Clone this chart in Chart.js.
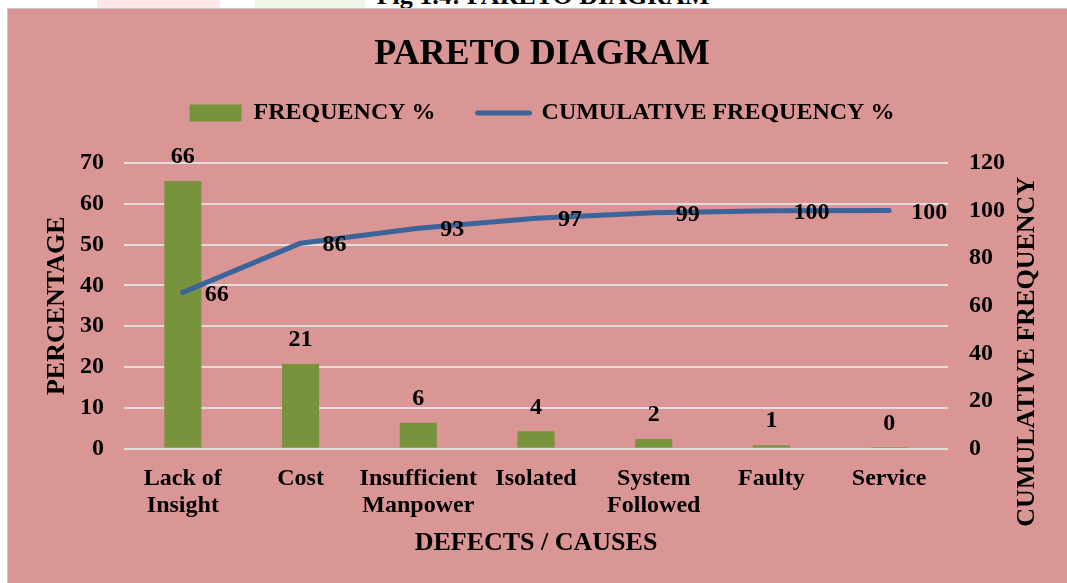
<!DOCTYPE html>
<html>
<head>
<meta charset="utf-8">
<title>Pareto Diagram</title>
<script src="https://cdn.jsdelivr.net/npm/chart.js@4.4.1/dist/chart.umd.min.js"></script>
<style>
  html, body { margin: 0; padding: 0; background: #fff; width: 1067px; height: 583px; overflow: hidden; }
  .caption { position: absolute; left: 0; top: -17px; width: 1086px; text-align: center;
             font: bold 26px/26px "Liberation Serif", "Times New Roman", serif; color: #000; }
  .smudge { position: absolute; top: 0; height: 8px; }
  .frame { position: absolute; left: 7px; top: 8px; width: 1080px; height: 590px;
           background: #D99694; border: 1px solid #C9C9C9; }
  .wrap { position: absolute; left: 0; top: 0; }
</style>
</head>
<body>
<div class="smudge" style="left:97px;width:123px;background:#FCE6E6"></div>
<div class="smudge" style="left:255px;width:110px;background:#EEF6E8"></div>
<div class="caption">Fig 1.4: PARETO DIAGRAM</div>
<div class="frame">
  <div class="wrap"><canvas id="pareto" width="1070" height="574"></canvas></div>
</div>
<script>
// data
const categories = [['Lack of', 'Insight'], 'Cost', ['Insufficient', 'Manpower'], 'Isolated', ['System', 'Followed'], 'Faulty', 'Service'];
const frequencyPct = [65.6, 20.7, 6.3, 4.2, 2.3, 0.8, 0.1];
const cumulativePct = [65.6, 86.3, 92.6, 96.8, 99.1, 99.9, 100];
const leftAxis = { min: 0, max: 70, step: 10 };
const rightAxis = { min: 0, max: 120, step: 20 };

const GREEN = '#77933C';
const BLUE = '#3B659A';
const FONT = '"Liberation Serif", "Times New Roman", serif';
const LEGEND_HEIGHT = 104;

Chart.defaults.font.family = FONT;
Chart.defaults.color = '#000';

// fix the legend box height so the plot starts where Excel put it
const legendHeight = {
  id: 'legendHeight',
  beforeLayout(chart) {
    const lg = chart.legend;
    if (lg && !lg._fixedFit) {
      const fit = lg.fit;
      lg.fit = function () {
        fit.call(this);
        this.height = LEGEND_HEIGHT;
      };
      lg._fixedFit = true;
    }
  }
};

// value labels + the right axis title (Excel reads it bottom-to-top)
const paretoLabels = {
  id: 'paretoLabels',
  afterDatasetsDraw(chart) {
    const ctx = chart.ctx;
    ctx.save();
    ctx.font = 'bold 24px ' + FONT;
    ctx.fillStyle = '#000';
    ctx.textBaseline = 'middle';

    ctx.textAlign = 'center';
    chart.getDatasetMeta(0).data.forEach((bar, i) => {
      ctx.fillText(Math.round(frequencyPct[i]), bar.x, bar.y - 24);
    });

    ctx.textAlign = 'left';
    chart.getDatasetMeta(1).data.forEach((pt, i) => {
      ctx.fillText(Math.round(cumulativePct[i]), pt.x + 22, pt.y + 2);
    });

    const y1 = chart.scales.y1;
    const area = chart.chartArea;
    ctx.translate(y1.right - 15.6, (area.top + area.bottom) / 2 + 46);
    ctx.rotate(-Math.PI / 2);
    ctx.textAlign = 'center';
    ctx.font = 'bold 26px ' + FONT;
    ctx.fillText('CUMULATIVE FREQUENCY', 0, 0);
    ctx.restore();
  }
};

new Chart(document.getElementById('pareto'), {
  data: {
    labels: categories,
    datasets: [
      {
        type: 'bar',
        label: 'FREQUENCY %',
        data: frequencyPct,
        backgroundColor: GREEN,
        borderWidth: 0,
        categoryPercentage: 1,
        barPercentage: 0.315,
        yAxisID: 'y',
        order: 1
      },
      {
        type: 'line',
        label: 'CUMULATIVE FREQUENCY %',
        data: cumulativePct,
        borderColor: BLUE,
        backgroundColor: BLUE,
        borderWidth: 5,
        borderCapStyle: 'round',
        borderJoinStyle: 'round',
        pointRadius: 0,
        tension: 0,
        yAxisID: 'y1',
        order: 0
      }
    ]
  },
  options: {
    responsive: false,
    animation: false,
    layout: { padding: { left: 33.4, right: 35.4, top: 0, bottom: 24.3 } },
    plugins: {
      tooltip: { enabled: false },
      title: {
        display: true,
        text: 'PARETO DIAGRAM',
        color: '#000',
        font: { size: 36, weight: 'bold', lineHeight: 1 },
        padding: { top: 28, bottom: -14 }
      },
      legend: {
        display: true,
        position: 'top',
        labels: {
          usePointStyle: true,
          pointStyleWidth: 52,
          boxHeight: 17,
          padding: 42,
          color: '#000',
          font: { size: 24, weight: 'bold' },
          generateLabels: () => [
            { text: 'FREQUENCY %', fillStyle: GREEN, strokeStyle: GREEN, lineWidth: 0,
              pointStyle: 'rect', datasetIndex: 0, fontColor: '#000' },
            { text: 'CUMULATIVE FREQUENCY %', fillStyle: BLUE, strokeStyle: BLUE, lineWidth: 5,
              lineCap: 'round', pointStyle: 'line', datasetIndex: 1, fontColor: '#000' }
          ]
        }
      }
    },
    scales: {
      x: {
        grid: { display: false },
        border: { display: false },
        ticks: { padding: 8.5, font: { size: 24, weight: 'bold', lineHeight: 1.125 }, maxRotation: 0, autoSkip: false },
        title: {
          display: true,
          text: 'DEFECTS / CAUSES',
          font: { size: 26, weight: 'bold' },
          padding: { top: 0, bottom: 0 }
        }
      },
      y: {
        position: 'left',
        min: leftAxis.min,
        max: leftAxis.max,
        afterFit: s => { s.width = 82.6; },
        grid: { color: '#E4DCDC', lineWidth: 2, drawTicks: false },
        border: { display: false },
        ticks: { stepSize: leftAxis.step, padding: 20, font: { size: 24, weight: 'bold' } },
        title: {
          display: true,
          text: 'PERCENTAGE',
          font: { size: 26, weight: 'bold' },
          padding: 0
        }
      },
      y1: {
        position: 'right',
        min: rightAxis.min,
        max: rightAxis.max,
        afterFit: s => { s.width = 94.6; },
        grid: { display: false, drawTicks: false },
        border: { display: false },
        ticks: { stepSize: rightAxis.step, padding: 21, font: { size: 24, weight: 'bold' } }
      }
    }
  },
  plugins: [legendHeight, paretoLabels]
});
</script>
</body>
</html>
